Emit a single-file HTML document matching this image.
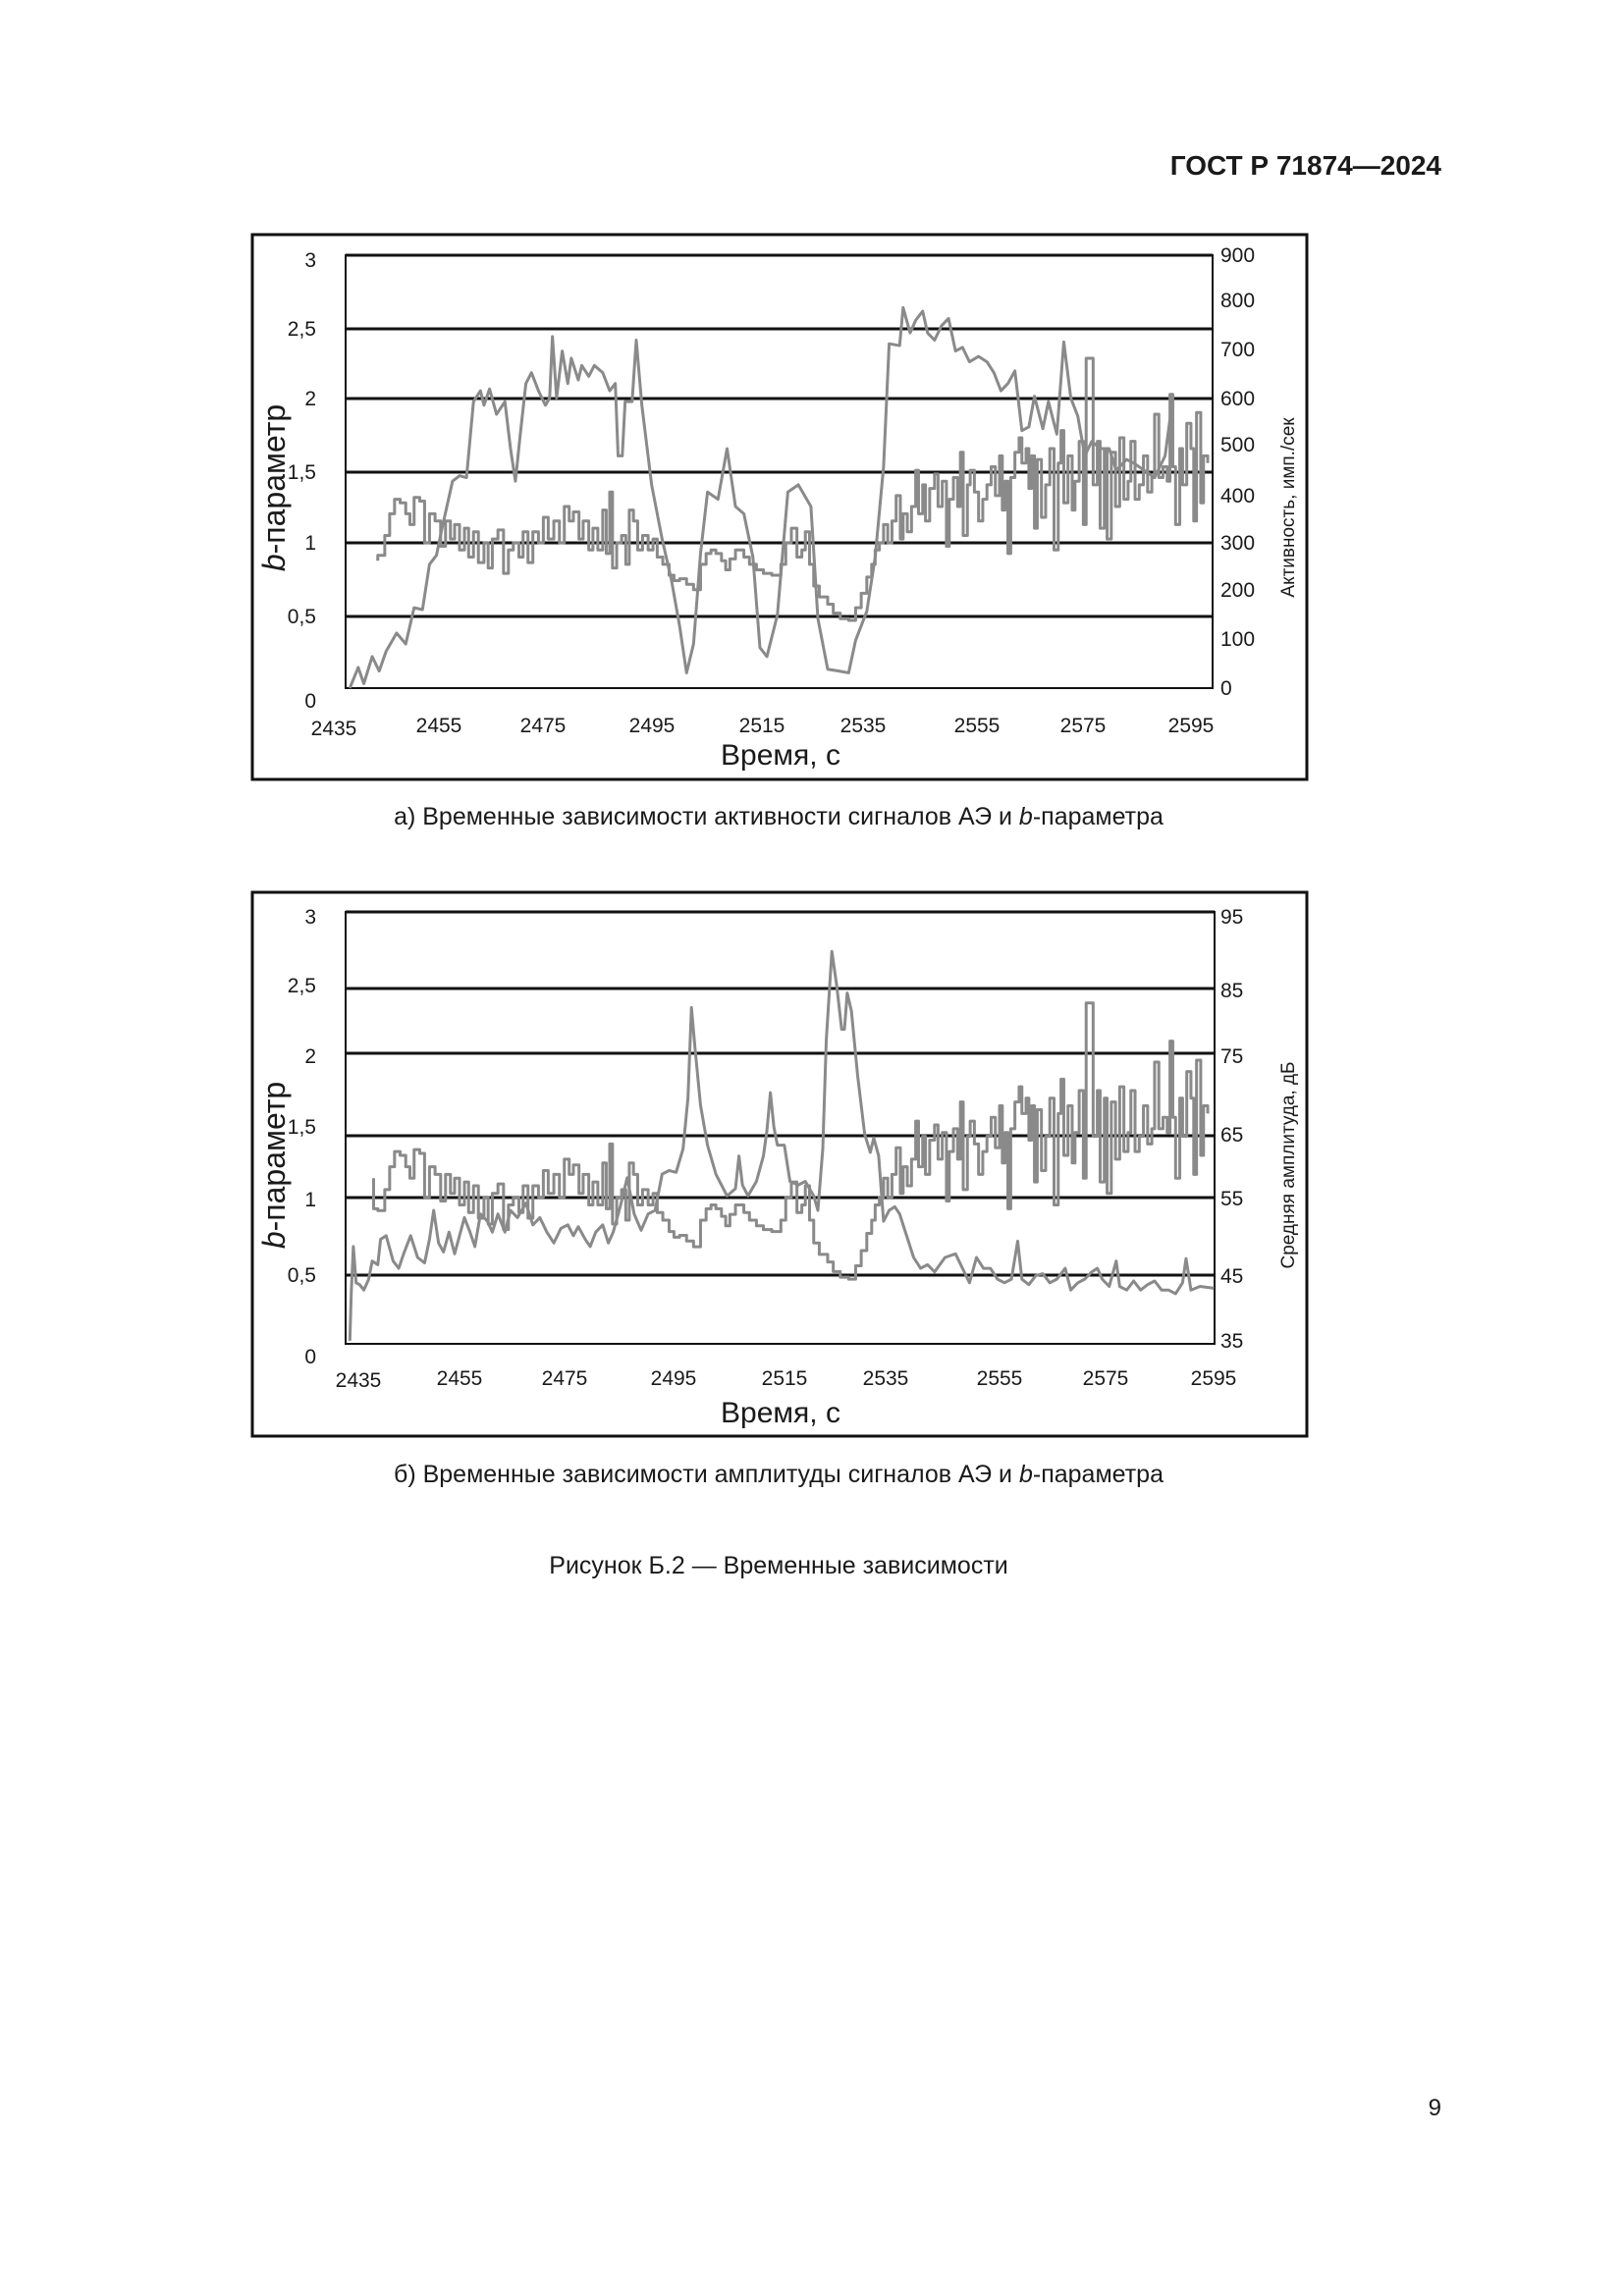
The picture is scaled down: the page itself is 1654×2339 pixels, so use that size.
<!DOCTYPE html>
<html><head><meta charset="utf-8"><style>
html,body{margin:0;padding:0;background:#fff;}
svg{display:block;}
text{font-family:"Liberation Sans",sans-serif;fill:#1a1a1a;}
</style></head><body>
<svg width="1654" height="2339" viewBox="0 0 1654 2339" xmlns="http://www.w3.org/2000/svg">
<rect width="1654" height="2339" fill="#fff"/>
<text x="1468" y="178" font-size="28" font-weight="bold" text-anchor="end">ГОСТ Р 71874—2024</text>

<!-- CHART 1 -->
<rect x="257" y="239" width="1074" height="555" fill="none" stroke="#111" stroke-width="3"/>
<g stroke="#111" stroke-width="3">
<line x1="352" y1="260" x2="1235" y2="260"/>
<line x1="352" y1="335" x2="1235" y2="335"/>
<line x1="352" y1="406" x2="1235" y2="406"/>
<line x1="352" y1="481" x2="1235" y2="481"/>
<line x1="352" y1="553" x2="1235" y2="553"/>
<line x1="352" y1="628" x2="1235" y2="628"/>
</g>
<rect x="352" y="260" width="883" height="441" fill="none" stroke="#111" stroke-width="2"/>
<g fill="none" stroke="#8a8a8a" stroke-width="3" stroke-linejoin="round">
<polyline vector-effect="non-scaling-stroke" transform="matrix(0.7115,0,0,0.3684,251,236)" points="148,1262 160,1205 168,1250 180,1175 190,1215 200,1160 215,1110 228,1140 240,1040 252,1045 262,920 272,895 280,820 295,690 305,675 315,680 325,470 335,440 340,480 348,435 358,505 370,470 378,600 385,690 392,560 400,420 408,390 418,440 428,480 434,460 438,290 444,460 452,330 460,420 465,350 475,410 480,370 490,400 498,370 510,390 520,440 528,420 532,620 538,620 542,470 552,470 558,300 566,480 580,700 595,850 608,960 620,1090 630,1220 640,1140 650,890 660,720 675,740 688,600 700,760 712,780 725,900 735,1150 745,1175 760,1060 775,720 790,700 808,760 818,1070 832,1210 848,1215 862,1220 872,1130 888,1050 900,900 912,650 920,310 935,315 940,210 950,280 958,245 968,220 975,280 985,300 995,260 1005,240 1015,330 1025,320 1035,360 1048,345 1060,360 1070,390 1080,440 1090,420 1100,385 1110,550 1120,540 1128,455 1140,545 1148,470 1160,560 1170,305 1180,460 1190,510 1200,620 1210,580 1222,600 1235,600 1245,660 1260,630 1270,640 1285,660 1300,680 1315,620 1325,475"/>
<path vector-effect="non-scaling-stroke" transform="matrix(0.7115,0,0,0.3684,251,236)" d="M188,910 V895 H198 V840 H205 V780 H212 V740 H220 V750 H228 V780 H234 V810 H240 V735 H248 V745 H255 V860 H262 V780 H270 V800 H278 V870 H285 V800 H292 V850 H298 V810 H305 V880 H312 V820 H318 V900 H325 V830 H332 V915 H340 V860 H346 V930 H352 V850 H360 V825 H368 V945 H375 V880 H382 V860 H390 V900 H396 V830 H403 V915 H410 V830 H418 V860 H425 V790 H432 V850 H440 V800 H448 V860 H455 V760 H462 V800 H468 V775 H476 V850 H482 V800 H490 V880 H496 V820 H503 V880 H510 V770 H515 V890 H520 V720 H524 V930 H530 V860 H537 V840 H543 V920 H548 V770 H554 V800 H560 V880 H567 V840 H575 V880 H582 V850 H588 V900 H596 V920 H605 V950 H612 V965 H620 V960 H630 V975 H640 V990 H650 V920 H658 V890 H665 V880 H672 V890 H680 V910 H686 V935 H692 V905 H700 V880 H706 V880 H712 V900 H720 V920 H730 V935 H740 V945 H752 V950 H765 V920 H772 V860 H780 V820 H788 V900 H795 V880 H800 V830 H806 V920 H812 V980 H820 V1010 H832 V1030 H840 V1055 H850 V1070 H862 V1075 H872 V1040 H880 V1000 H888 V955 H895 V920 H900 V880 H906 V860 H912 V810 H918 V860 H924 V800 H930 V730 H936 V850 H940 V780 H946 V830 H952 V760 H958 V660 H962 V780 H968 V700 H972 V800 H978 V710 H985 V670 H990 V760 H996 V690 H1002 V870 H1006 V740 H1012 V680 H1018 V760 H1022 V610 H1026 V840 H1032 V700 H1036 V660 H1042 V720 H1048 V800 H1054 V740 H1060 V700 H1066 V650 H1072 V730 H1078 V620 H1082 V770 H1086 V690 H1090 V890 H1094 V680 H1100 V610 H1106 V570 H1110 V640 H1116 V600 H1120 V710 H1124 V620 H1128 V820 H1132 V630 H1138 V790 H1144 V700 H1150 V600 H1156 V880 H1162 V640 H1166 V550 H1170 V750 H1176 V620 H1182 V770 H1186 V690 H1192 V580 H1198 V810 H1202 V350 H1212 V700 H1218 V580 H1222 V820 H1228 V600 H1232 V850 H1238 V610 H1244 V760 H1250 V570 H1256 V740 H1262 V690 H1266 V580 H1272 V740 H1278 V700 H1284 V620 H1290 V720 H1296 V680 H1300 V505 H1306 V680 H1312 V650 H1318 V690 H1322 V450 H1326 V650 H1330 V810 H1336 V600 H1340 V700 H1346 V530 H1352 V600 H1356 V800 H1360 V500 H1366 V750 H1370 V620 H1376 V640"/>
</g>
<g font-size="21" text-anchor="end">
<text x="322" y="272">3</text><text x="322" y="342">2,5</text><text x="322" y="413">2</text>
<text x="322" y="488">1,5</text><text x="322" y="560">1</text><text x="322" y="635">0,5</text><text x="322" y="721">0</text>
</g>
<g font-size="21">
<text x="1243" y="267">900</text><text x="1243" y="313">800</text><text x="1243" y="363">700</text>
<text x="1243" y="413">600</text><text x="1243" y="460">500</text><text x="1243" y="512">400</text>
<text x="1243" y="560">300</text><text x="1243" y="608">200</text><text x="1243" y="658">100</text><text x="1243" y="708">0</text>
</g>
<g font-size="21" text-anchor="middle">
<text x="340" y="749">2435</text><text x="447" y="746">2455</text><text x="553" y="746">2475</text>
<text x="664" y="746">2495</text><text x="776" y="746">2515</text><text x="879" y="746">2535</text>
<text x="995" y="746">2555</text><text x="1103" y="746">2575</text><text x="1213" y="746">2595</text>
</g>
<text x="795" y="779" font-size="30" text-anchor="middle">Время, с</text>
<text transform="translate(290,497) rotate(-90)" font-size="32" text-anchor="middle"><tspan font-style="italic">b</tspan>-параметр</text>
<text transform="translate(1318,517) rotate(-90)" font-size="19" text-anchor="middle">Активность, имп./сек</text>

<text x="793" y="840" font-size="25" text-anchor="middle">а)  Временные зависимости активности сигналов АЭ и <tspan font-style="italic">b</tspan>-параметра</text>

<!-- CHART 2 -->
<rect x="257" y="909" width="1074" height="554" fill="none" stroke="#111" stroke-width="3"/>
<g stroke="#111" stroke-width="3">
<line x1="352" y1="929" x2="1237" y2="929"/>
<line x1="352" y1="1007" x2="1237" y2="1007"/>
<line x1="352" y1="1073" x2="1237" y2="1073"/>
<line x1="352" y1="1157" x2="1237" y2="1157"/>
<line x1="352" y1="1220" x2="1237" y2="1220"/>
<line x1="352" y1="1299" x2="1237" y2="1299"/>
</g>
<rect x="352" y="929" width="885" height="440" fill="none" stroke="#111" stroke-width="2"/>
<g fill="none" stroke="#8a8a8a" stroke-width="3" stroke-linejoin="round">
<polyline vector-effect="non-scaling-stroke" transform="matrix(0.7115,0,0,0.369,251,912)" points="148,1230 150,1100 153,970 157,1070 162,1075 168,1090 175,1060 180,1010 188,1020 192,950 200,940 210,1010 218,1030 225,990 235,940 245,1000 255,1015 262,950 268,870 275,960 282,985 290,930 298,990 305,940 312,890 320,930 327,970 335,880 345,900 352,930 360,880 370,930 378,870 388,890 400,850 410,910 420,890 430,930 440,960 450,920 460,910 468,940 475,915 485,950 492,970 500,930 510,910 518,960 525,930 535,860 545,780 555,880 565,925 575,880 585,870 595,770 605,760 615,765 625,700 632,560 637,310 642,420 650,580 660,690 672,770 688,830 700,810 705,720 710,800 718,830 730,790 740,720 745,650 750,545 755,640 760,690 770,690 778,790 790,800 800,790 812,830 818,870 825,700 830,400 838,155 845,250 852,370 856,370 860,270 866,320 875,500 885,660 893,710 898,670 905,720 912,900 920,870 928,860 935,880 945,940 955,1000 965,1030 975,1020 985,1040 1000,1000 1015,990 1025,1030 1035,1070 1045,1000 1055,1030 1065,1030 1075,1060 1085,1070 1095,1060 1104,955 1110,1060 1120,1075 1130,1050 1140,1045 1150,1070 1160,1060 1172,1030 1180,1090 1190,1070 1200,1060 1210,1040 1218,1030 1225,1060 1235,1080 1245,1010 1250,1080 1260,1090 1270,1065 1280,1090 1290,1075 1300,1065 1310,1090 1320,1090 1330,1100 1340,1070 1345,1003 1352,1090 1365,1080 1385,1085"/>
<path vector-effect="non-scaling-stroke" transform="matrix(0.7115,0,0,0.388,251,886)" d="M182,810 V890 H188 V895 H198 V840 H205 V780 H212 V740 H220 V750 H228 V780 H234 V810 H240 V735 H248 V745 H255 V860 H262 V780 H270 V800 H278 V870 H285 V800 H292 V850 H298 V810 H305 V880 H312 V820 H318 V900 H325 V830 H332 V915 H340 V860 H346 V930 H352 V850 H360 V825 H368 V945 H375 V880 H382 V860 H390 V900 H396 V830 H403 V915 H410 V830 H418 V860 H425 V790 H432 V850 H440 V800 H448 V860 H455 V760 H462 V800 H468 V775 H476 V850 H482 V800 H490 V880 H496 V820 H503 V880 H510 V770 H515 V890 H520 V720 H524 V930 H530 V860 H537 V840 H543 V920 H548 V770 H554 V800 H560 V880 H567 V840 H575 V880 H582 V850 H588 V900 H596 V920 H605 V950 H612 V965 H620 V960 H630 V975 H640 V990 H650 V920 H658 V890 H665 V880 H672 V890 H680 V910 H686 V935 H692 V905 H700 V880 H706 V880 H712 V900 H720 V920 H730 V935 H740 V945 H752 V950 H765 V920 H772 V860 H780 V820 H788 V900 H795 V880 H800 V830 H806 V920 H812 V980 H820 V1010 H832 V1030 H840 V1055 H850 V1070 H862 V1075 H872 V1040 H880 V1000 H888 V955 H895 V920 H900 V880 H906 V860 H912 V810 H918 V860 H924 V800 H930 V730 H936 V850 H940 V780 H946 V830 H952 V760 H958 V660 H962 V780 H968 V700 H972 V800 H978 V710 H985 V670 H990 V760 H996 V690 H1002 V870 H1006 V740 H1012 V680 H1018 V760 H1022 V610 H1026 V840 H1032 V700 H1036 V660 H1042 V720 H1048 V800 H1054 V740 H1060 V700 H1066 V650 H1072 V730 H1078 V620 H1082 V770 H1086 V690 H1090 V890 H1094 V680 H1100 V610 H1106 V570 H1110 V640 H1116 V600 H1120 V710 H1124 V620 H1128 V820 H1132 V630 H1138 V790 H1144 V700 H1150 V600 H1156 V880 H1162 V640 H1166 V550 H1170 V750 H1176 V620 H1182 V770 H1186 V690 H1192 V580 H1198 V810 H1202 V350 H1212 V700 H1218 V580 H1222 V820 H1228 V600 H1232 V850 H1238 V610 H1244 V760 H1250 V570 H1256 V740 H1262 V690 H1266 V580 H1272 V740 H1278 V700 H1284 V620 H1290 V720 H1296 V680 H1300 V505 H1306 V680 H1312 V650 H1318 V690 H1322 V450 H1326 V650 H1330 V810 H1336 V600 H1340 V700 H1346 V530 H1352 V600 H1356 V800 H1360 V500 H1366 V750 H1370 V620 H1376 V640"/>
</g>
<g font-size="21" text-anchor="end">
<text x="322" y="941">3</text><text x="322" y="1011">2,5</text><text x="322" y="1083">2</text>
<text x="322" y="1155">1,5</text><text x="322" y="1229">1</text><text x="322" y="1306">0,5</text><text x="322" y="1389">0</text>
</g>
<g font-size="21">
<text x="1243" y="941">95</text><text x="1243" y="1016">85</text><text x="1243" y="1083">75</text>
<text x="1243" y="1163">65</text><text x="1243" y="1228">55</text><text x="1243" y="1307">45</text><text x="1243" y="1373">35</text>
</g>
<g font-size="21" text-anchor="middle">
<text x="365" y="1413">2435</text><text x="468" y="1411">2455</text><text x="575" y="1411">2475</text>
<text x="686" y="1411">2495</text><text x="799" y="1411">2515</text><text x="902" y="1411">2535</text>
<text x="1018" y="1411">2555</text><text x="1126" y="1411">2575</text><text x="1236" y="1411">2595</text>
</g>
<text x="795" y="1449" font-size="30" text-anchor="middle">Время, с</text>
<text transform="translate(290,1187) rotate(-90)" font-size="32" text-anchor="middle"><tspan font-style="italic">b</tspan>-параметр</text>
<text transform="translate(1318,1187) rotate(-90)" font-size="19" text-anchor="middle">Средняя амплитуда, дБ</text>

<text x="793" y="1510" font-size="25" text-anchor="middle">б)  Временные зависимости амплитуды сигналов АЭ и <tspan font-style="italic">b</tspan>-параметра</text>

<text x="793" y="1603" font-size="25" text-anchor="middle">Рисунок Б.2 — Временные зависимости</text>
<text x="1468" y="2155" font-size="24" text-anchor="end">9</text>
</svg>
</body></html>
